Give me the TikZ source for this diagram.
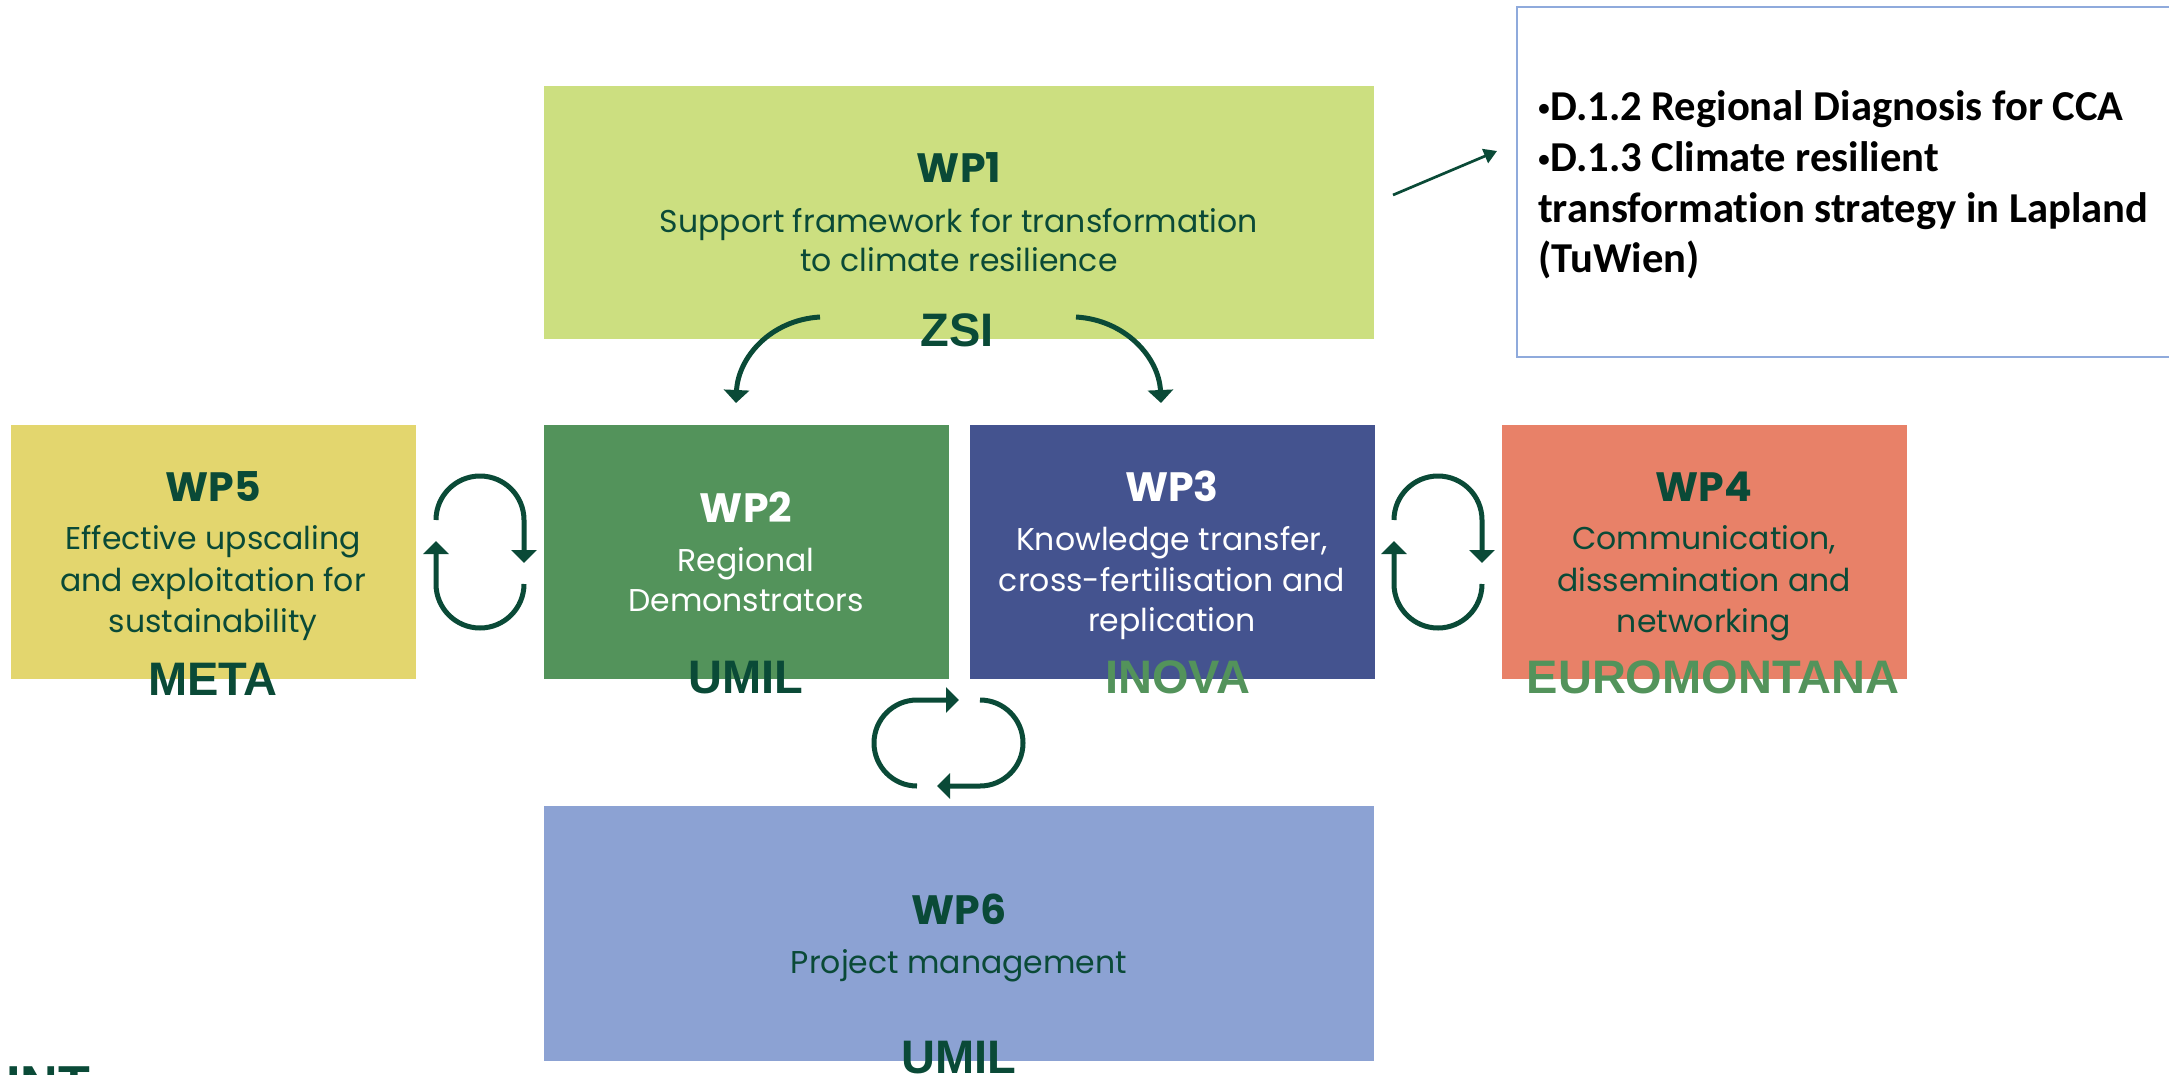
\documentclass[tikz,border=0pt]{standalone}
\usepackage{fontspec}
\usetikzlibrary{arrows.meta}
\newfontfamily\popf{Poppins}
\newfontfamily\arialf{Liberation Sans}
\newfontfamily\calf[Ligatures=NoCommon]{Carlito}
\definecolor{dkgreen}{RGB}{10,74,55}
\definecolor{cwpone}{RGB}{204,223,128}
\definecolor{cwptwo}{RGB}{83,147,91}
\definecolor{cwpthree}{RGB}{68,83,143}
\definecolor{cwpfour}{RGB}{232,129,104}
\definecolor{cwpfive}{RGB}{227,214,110}
\definecolor{cwpsix}{RGB}{140,162,211}
\definecolor{boxline}{RGB}{143,170,220}
\newcommand{\smbul}{{\arialf\fontsize{34pt}{34pt}\selectfont •}}
\begin{document}
\begin{tikzpicture}[x=1pt,y=-1pt,
  wpbox/.style={draw=none, inner sep=0pt, outer sep=0pt, anchor=north west},
  ttl/.style={anchor=base, inner sep=0pt, text=dkgreen, font=\popf\bfseries\fontsize{41pt}{41pt}\selectfont},
  dsc/.style={anchor=base, inner sep=0pt, text=dkgreen, font=\popf\fontsize{31.5pt}{31.5pt}\selectfont},
  partner/.style={anchor=base, inner sep=0pt, text=dkgreen, font=\arialf\bfseries\fontsize{47pt}{47pt}\selectfont},
  deltext/.style={anchor=base west, inner sep=0pt, text=black, font=\calf\bfseries\fontsize{42.6pt}{42.6pt}\selectfont},
  loop/.style={draw=dkgreen, line width=5pt, -{Triangle[width=25pt,length=13pt]}}
]
\clip (0,0) rectangle (2169,1074);
\fill[white] (0,0) rectangle (2169,1074);

% boxes
\node[wpbox, fill=cwpone,   minimum width=830pt, minimum height=253pt] (wp1) at (544,86) {};
\node[wpbox, fill=cwpfive,  minimum width=405pt, minimum height=254pt] (wp5) at (11,425) {};
\node[wpbox, fill=cwptwo,   minimum width=405pt, minimum height=254pt] (wp2) at (544,425) {};
\node[wpbox, fill=cwpthree, minimum width=405pt, minimum height=254pt] (wp3) at (970,425) {};
\node[wpbox, fill=cwpfour,  minimum width=405pt, minimum height=254pt] (wp4) at (1502,425) {};
\node[wpbox, fill=cwpsix,   minimum width=830pt, minimum height=255pt] (wp6) at (544,806) {};

% WP1
\node[ttl] (wp1t) at (959,182) {WP1};
\node[dsc] (wp1a) at (959,232) {Support framework for transformation};
\node[dsc] (wp1b) at (959,271) {to climate resilience};
\node[partner] (zsi) at (957,346) {ZSI};

% WP5
\node[ttl] (wp5t) at (213,501) {WP5};
\node[dsc] (wp5a) at (213,549) {Effective upscaling};
\node[dsc] (wp5b) at (213,591) {and exploitation for};
\node[dsc] (wp5c) at (213,632) {sustainability};
\node[partner] (meta) at (213,695) {META};

% WP2
\node[ttl, text=white] (wp2t) at (746,522) {WP2};
\node[dsc, text=white] (wp2a) at (746,571) {Regional};
\node[dsc, text=white] (wp2b) at (746,611) {Demonstrators};
\node[partner] (umil) at (746,693) {UMIL};

% WP3
\node[ttl, text=white] (wp3t) at (1172,501) {WP3};
\node[dsc, text=white] (wp3a) at (1172,550) {Knowledge transfer,};
\node[dsc, text=white] (wp3b) at (1172,591) {cross-fertilisation and};
\node[dsc, text=white] (wp3c) at (1172,631) {replication};
\node[partner, text=cwptwo] (inova) at (1178,693) {INOVA};

% WP4
\node[ttl] (wp4t) at (1704,501) {WP4};
\node[dsc] (wp4a) at (1704,549) {Communication,};
\node[dsc] (wp4b) at (1704,591) {dissemination and};
\node[dsc] (wp4c) at (1704,632) {networking};
\node[partner, text=cwptwo] (euro) at (1713,693) {EUROMONTANA};

% WP6
\node[ttl] (wp6t) at (959,924) {WP6};
\node[dsc] (wp6a) at (959,973) {Project management};
\node[partner] (umil6) at (959,1073) {UMIL};

% cut-off text bottom left
\node[partner, font=\arialf\bfseries\fontsize{52pt}{52pt}\selectfont, anchor=base east] (intx) at (90,1102) {INT};

% deliverables box
\node[wpbox, draw=boxline, line width=2.5pt, minimum width=700pt, minimum height=350pt] (deliv) at (1517,7) {};
\node[deltext] (d1) at (1538,120) {\smbul D.1.2 Regional Diagnosis for CCA};
\node[deltext] (d2) at (1538,171) {\smbul D.1.3 Climate resilient};
\node[deltext] (d3) at (1538,222) {transformation strategy in Lapland};
\node[deltext] (d4) at (1538,272) {(TuWien)};

% arrow to deliverables
\coordinate (wp1out) at (1393,195);
\coordinate (delivin) at (1497,151);
\draw[draw=dkgreen, line width=2.7pt, -{Triangle[width=15pt,length=13pt]}] (wp1out) -- (delivin);

% curved arrows WP1 -> WP2, WP3
\coordinate (l1s) at (820,317);
\coordinate (l1e) at (736,403);
\coordinate (r1s) at (1076,317);
\coordinate (r1e) at (1161,403);
\draw[loop] (l1s) .. controls (770,320) and (738,358) .. (l1e);
\draw[loop] (r1s) .. controls (1126,320) and (1159,358) .. (r1e);

% loop WP5 <-> WP2
\draw[loop] (436,520) .. controls (436,495.7) and (455.7,476) .. (480,476)
   .. controls (504.3,476) and (524,495.7) .. (524,520) -- (524,563);
\draw[loop] (524,584) .. controls (524,608.3) and (504.3,628) .. (480,628)
   .. controls (455.7,628) and (436,608.3) .. (436,584) -- (436,541);

% loop WP3 <-> WP4
\draw[loop] (1394,520) .. controls (1394,495.7) and (1413.7,476) .. (1438,476)
   .. controls (1462.3,476) and (1482,495.7) .. (1482,520) -- (1482,563);
\draw[loop] (1482,584) .. controls (1482,608.3) and (1462.3,628) .. (1438,628)
   .. controls (1413.7,628) and (1394,608.3) .. (1394,584) -- (1394,541);

% loop WP2/WP3 <-> WP6
\draw[loop] (917,786) .. controls (893.3,786) and (874,766.7) .. (874,743)
   .. controls (874,719.3) and (893.3,700) .. (917,700) -- (959,700);
\draw[loop] (980,700) .. controls (1003.7,700) and (1023,719.3) .. (1023,743)
   .. controls (1023,766.7) and (1003.7,786) .. (980,786) -- (937,786);
\end{tikzpicture}
\end{document}
